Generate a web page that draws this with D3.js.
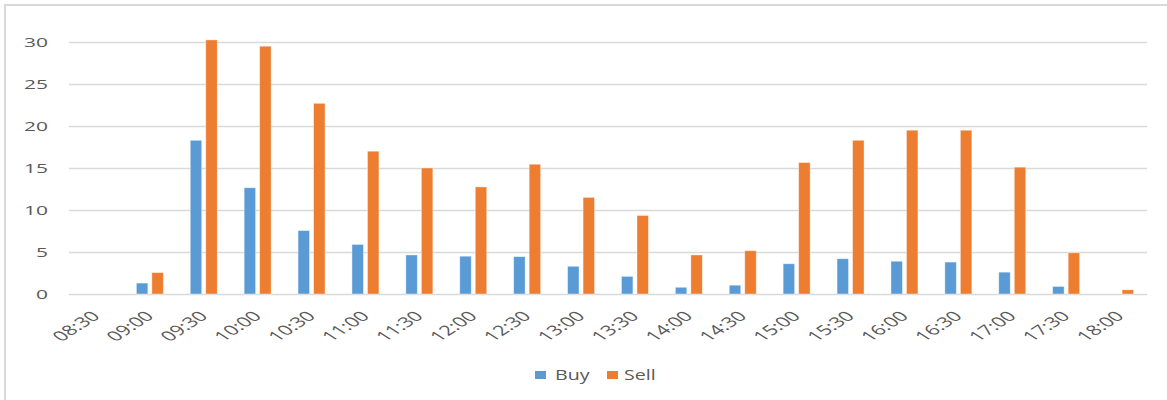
<!DOCTYPE html>
<html>
<head>
<meta charset="utf-8">
<script src="https://cdn.jsdelivr.net/npm/d3@7"></script>
<style>
  html, body { margin: 0; padding: 0; background: #fff; }
  svg { display: block; }
  text { font-family: "Open Sans", "Noto Sans", sans-serif; fill: #595959; }
</style>
</head>
<body>
<svg id="chart" width="1167" height="400"></svg>
<script>
// Half-hour time slots
const categories = ["08:30","09:00","09:30","10:00","10:30","11:00","11:30","12:00","12:30","13:00",
                    "13:30","14:00","14:30","15:00","15:30","16:00","16:30","17:00","17:30","18:00"];
const seriesNames = ["Buy", "Sell"];
const buyValues  = [0, 1.3, 18.3, 12.65, 7.55, 5.9, 4.65, 4.5, 4.45, 3.3,
                    2.1, 0.8, 1.05, 3.6, 4.2, 3.9, 3.8, 2.6, 0.9, 0];
const sellValues = [0, 2.55, 30.25, 29.5, 22.7, 17.0, 15.0, 12.75, 15.45, 11.5,
                    9.35, 4.65, 5.15, 15.65, 18.3, 19.5, 19.5, 15.1, 4.9, 0.5];
const yTicks = [0, 5, 10, 15, 20, 25, 30];
const colors = { Buy: "#5B9BD5", Sell: "#ED7D31" };

const svg = d3.select("#chart");
const W = 1167, H = 400;
const plot = { left: 69, right: 1147, top: 42, bottom: 294 };
const textStretch = 1.55;

// Outer frame
svg.append("rect")
  .attr("x", 5).attr("y", 5)
  .attr("width", W + 20).attr("height", H + 20)
  .attr("fill", "#fff")
  .attr("stroke", "#d9d9d9").attr("stroke-width", 2);

const x0 = d3.scaleBand().domain(categories).range([plot.left, plot.right]).padding(0);
const pairWidth = 27;
const x1 = d3.scaleBand().domain(seriesNames)
  .range([x0.bandwidth() / 2 - pairWidth / 2, x0.bandwidth() / 2 + pairWidth / 2])
  .paddingInner(0.26).paddingOuter(0);
const y = d3.scaleLinear().domain([0, 30]).range([plot.bottom, plot.top]);

// Y axis with gridlines
const yAxis = svg.append("g")
  .attr("transform", `translate(${plot.left},0)`)
  .call(d3.axisLeft(y).tickValues(yTicks).tickSize(-(plot.right - plot.left)).tickFormat(d3.format("d")));
yAxis.select(".domain").remove();
yAxis.selectAll(".tick line").attr("stroke", "#d9d9d9").attr("stroke-width", 1.6);
yAxis.selectAll(".tick text")
  .attr("x", 0).attr("dy", "0.35em")
  .attr("text-anchor", "end")
  .attr("transform", `translate(-21,0) scale(${textStretch},1)`)
  .style("font-size", "13.5px");

// Bars
const data = categories.map((c, i) => ({ cat: c, Buy: buyValues[i], Sell: sellValues[i] }));
const groups = svg.append("g").selectAll("g")
  .data(data).join("g")
  .attr("transform", d => `translate(${x0(d.cat)},0)`);
groups.selectAll("rect")
  .data(d => seriesNames.map(s => ({ s, v: d[s] })).filter(e => e.v > 0))
  .join("rect")
  .attr("x", e => x1(e.s))
  .attr("width", x1.bandwidth())
  .attr("y", e => y(e.v))
  .attr("height", e => y(0) - y(e.v))
  .attr("fill", e => colors[e.s])
  .attr("stroke", "#fff").attr("stroke-opacity", 0.5).attr("stroke-width", 0.8);

// X axis labels
const xAxis = svg.append("g")
  .attr("transform", `translate(0,${plot.bottom})`)
  .call(d3.axisBottom(x0).tickSize(0));
xAxis.select(".domain").remove();
xAxis.selectAll(".tick text")
  .attr("x", 0).attr("y", 0).attr("dy", 0)
  .attr("text-anchor", "end")
  .attr("transform", `translate(5,23) scale(${textStretch},1) rotate(-45)`)
  .style("font-size", "14px");

// Legend
const legendItems = [
  { name: "Buy", sx: 535, tx: 555 },
  { name: "Sell", sx: 607, tx: 624 }
];
const legend = svg.append("g");
legend.selectAll("rect").data(legendItems).join("rect")
  .attr("x", d => d.sx).attr("y", 371).attr("width", 11).attr("height", 8)
  .attr("fill", d => colors[d.name]);
legend.selectAll("text").data(legendItems).join("text")
  .attr("transform", d => `translate(${d.tx},380) scale(1.4,1)`)
  .style("font-size", "14px")
  .text(d => d.name);
</script>
</body>
</html>
